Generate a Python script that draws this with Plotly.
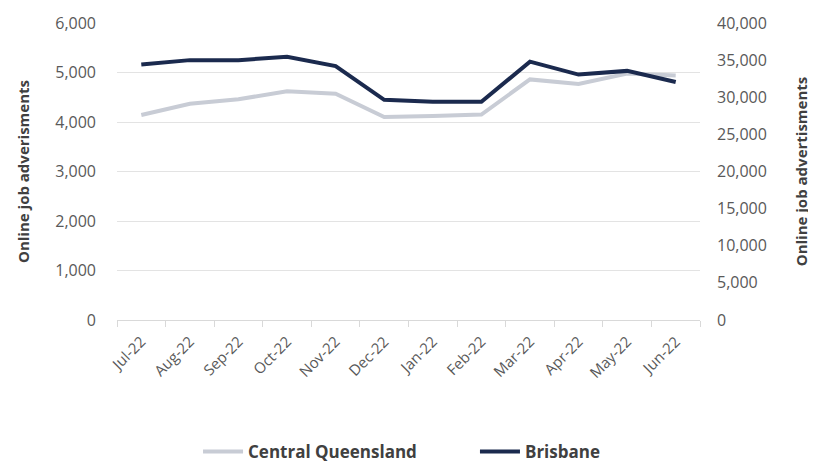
import plotly.graph_objects as go

months = ["Jul-22", "Aug-22", "Sep-22", "Oct-22", "Nov-22", "Dec-22",
          "Jan-22", "Feb-22", "Mar-22", "Apr-22", "May-22", "Jun-22"]
central_qld = [4140, 4370, 4460, 4620, 4570, 4100, 4120, 4150, 4860, 4770, 4980, 4940]
brisbane = [34400, 35000, 35000, 35450, 34200, 29650, 29380, 29380, 34800, 33050, 33550, 32050]

left_ticks = [0, 1000, 2000, 3000, 4000, 5000, 6000]
right_ticks = [0, 5000, 10000, 15000, 20000, 25000, 30000, 35000, 40000]

font_family = "Open Sans"
tick_color = "#595959"
title_color = "#404040"

fig = go.Figure()
fig.add_trace(go.Scatter(
    x=months, y=central_qld, name="Central Queensland", mode="lines",
    line=dict(color="#C8CCD5", width=4), yaxis="y", legend="legend"))
fig.add_trace(go.Scatter(
    x=months, y=brisbane, name="Brisbane", mode="lines",
    line=dict(color="#1B2A4E", width=4), yaxis="y2", legend="legend2"))

legend_font = dict(size=17, color=title_color, family=font_family, weight="bold")

fig.update_layout(
    width=808, height=460,
    margin=dict(l=109, r=116, t=15, b=148, autoexpand=False),
    paper_bgcolor="white", plot_bgcolor="white",
    font=dict(family=font_family, color=tick_color, size=15),
    showlegend=True,
    legend=dict(orientation="h", x=0.139, xanchor="left", y=-0.505, yanchor="bottom",
                font=legend_font, itemwidth=40),
    legend2=dict(orientation="h", x=0.614, xanchor="left", y=-0.505, yanchor="bottom",
                 font=legend_font, itemwidth=40),
    xaxis=dict(type="category", categoryorder="array", categoryarray=months,
               range=[-0.5, 11.5], tickson="boundaries", ticks="outside",
               ticklen=6, tickcolor="#D9D9D9", showline=True, linecolor="#D9D9D9",
               linewidth=1, showgrid=False, tickangle=-45, automargin=False,
               ticklabelstandoff=6,
               tickfont=dict(size=15, color=tick_color)),
    yaxis=dict(range=[0, 6000], tickvals=left_ticks, tickformat=",",
               showgrid=True, gridcolor="#E3E3E3", gridwidth=1, zeroline=False,
               showline=False, ticks="", ticklabelstandoff=20, automargin=False,
               title=dict(text="Online job adverisments", standoff=22,
                          font=dict(size=15, color=title_color, family=font_family, weight="bold")),
               tickfont=dict(size=16, color=tick_color)),
    yaxis2=dict(range=[0, 40000], tickvals=right_ticks, tickformat=",",
                overlaying="y", side="right", showgrid=False, zeroline=False,
                showline=False, ticks="", ticklabelstandoff=16, automargin=False,
                title=dict(text="Online job advertisments", standoff=30,
                           font=dict(size=15, color=title_color, family=font_family, weight="bold")),
                tickfont=dict(size=16, color=tick_color)),
)

fig.write_html("out.html")
